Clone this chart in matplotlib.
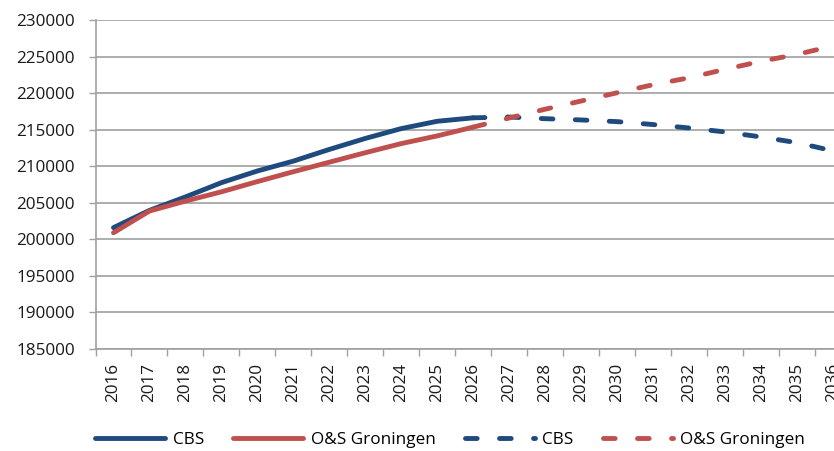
import matplotlib
matplotlib.use('Agg')
import matplotlib.pyplot as plt
import numpy as np

years = list(range(2016, 2037))

# realised/short term (2016-2026), solid lines
cbs_solid = [201600, 203960, 205800, 207750, 209350, 210700, 212300, 213800,
             215150, 216150, 216620]
os_solid = [200900, 203870, 205230, 206500, 207900, 209250, 210550, 211850,
            213100, 214150, 215350]

# prognosis (2026-2036), dashed lines
cbs_dash = [216620, 216730, 216500, 216330, 216100, 215700, 215230, 214690,
            214000, 213220, 212100]
os_dash = [215350, 216600, 217800, 218920, 220050, 221150, 222100, 223250,
           224350, 225300, 226450]

labels = ['CBS', 'O&S Groningen', 'CBS', 'O&S Groningen']

BLUE = '#1F4A7E'
RED = '#C0504D'
GRID = '#A0A0A0'
FONT = 'Open Sans'


def main():
    plt.rcParams['font.family'] = [FONT, 'DejaVu Sans']
    fig = plt.figure(figsize=(8.34, 4.51), dpi=100)
    W, H = 834.0, 451.0
    ax = fig.add_axes([95.5 / W, 1 - 349 / H, (851 - 95.5) / W, (349 - 20) / H])

    x = np.arange(len(years))
    x_solid = x[:len(cbs_solid)]
    x_dash = x[len(cbs_solid) - 1:]
    lw = 3.5
    dash = (0, (2.4, 4.6))

    ax.plot(x_solid, cbs_solid, color=BLUE, lw=lw, solid_capstyle='round',
            label=labels[0], zorder=3)
    ax.plot(x_solid, os_solid, color=RED, lw=lw, solid_capstyle='round',
            label=labels[1], zorder=3)
    ax.plot(x_dash, cbs_dash, color=BLUE, lw=lw, linestyle=dash,
            dash_capstyle='round', label=labels[2], zorder=3)
    ax.plot(x_dash, os_dash, color=RED, lw=lw, linestyle=dash,
            dash_capstyle='round', label=labels[3], zorder=3)

    ax.set_xlim(-0.5, len(years) - 0.5)
    ax.set_ylim(185000, 230000)
    ax.set_yticks(np.arange(185000, 230001, 5000))
    ax.yaxis.grid(True, color=GRID, lw=1.2)
    ax.set_axisbelow(True)

    ax.set_xticks(np.arange(-0.5, len(years)), labels=[])
    ax.set_xticks(x, labels=[str(y) for y in years], minor=True)
    ax.tick_params(axis='x', which='major', length=5, width=1, color=GRID,
                   direction='out')
    ax.tick_params(axis='x', which='minor', length=0, pad=10, labelrotation=90,
                   labelsize=12.3, labelcolor='#1a1a1a')
    ax.tick_params(axis='y', length=5, width=1, color=GRID, pad=10,
                   labelsize=12.3, labelcolor='#1a1a1a')

    for side in ['top', 'right']:
        ax.spines[side].set_visible(False)
    for side in ['left', 'bottom']:
        ax.spines[side].set_color(GRID)
        ax.spines[side].set_linewidth(1.2)

    fig.legend(loc='center left', bbox_to_anchor=(95 / W, 1 - 440 / H),
               ncol=4, frameon=False, fontsize=12.3, handlelength=4.1,
               handletextpad=0.45, columnspacing=1.7, borderpad=0,
               borderaxespad=0)

    fig.savefig('out.png', dpi=100)


if __name__ == '__main__':
    main()
